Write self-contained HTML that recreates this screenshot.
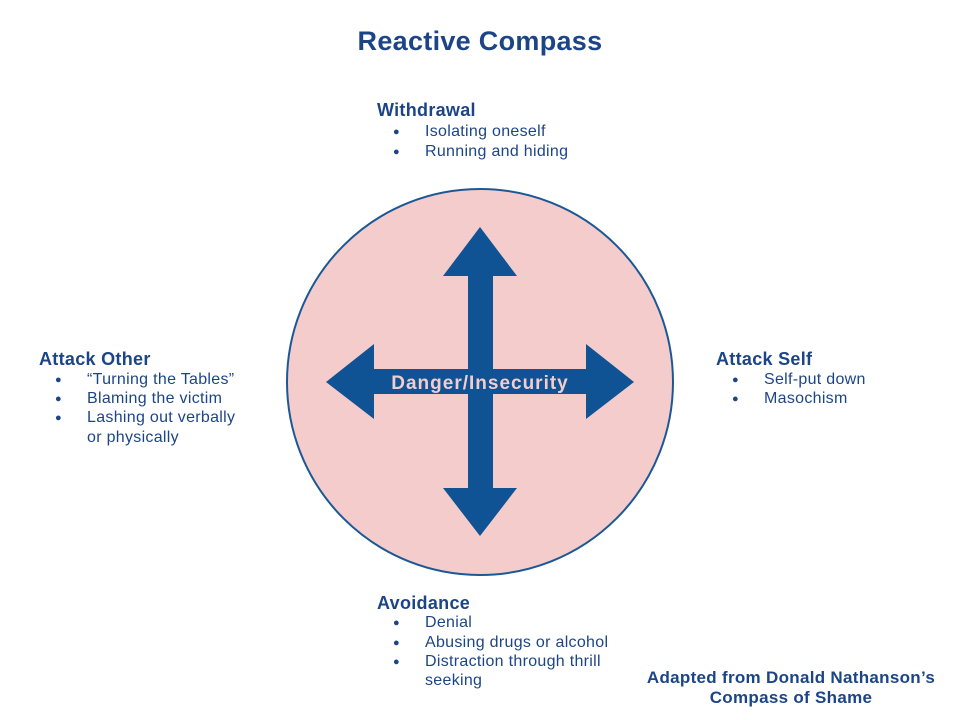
<!DOCTYPE html>
<html><head><meta charset="utf-8"><style>
body{margin:0;width:960px;height:720px;background:#fff;position:relative;overflow:hidden;font-family:"Liberation Sans",sans-serif;color:#1c4587}
.t{position:absolute;white-space:nowrap;line-height:20px;font-size:16px;letter-spacing:0.3px}
.h{font-weight:bold;font-size:18px;letter-spacing:0.3px}
.b{position:absolute;font-size:11px;line-height:20px}
</style></head><body>
<svg width="960" height="720" style="position:absolute;left:0;top:0">
<circle cx="480" cy="382" r="193" fill="#f4cccc" stroke="#1c5796" stroke-width="2"/>
<polygon fill="#0f5394" points="480,227 517,276 493,276 493,369 586,369 586,344 634,382 586,419 586,394 493,394 493,488 517,488 480,536 443,488 468,488 468,394 374,394 374,419 326,382 374,344 374,369 468,369 468,276 443,276"/>
<text x="480" y="389" text-anchor="middle" font-family="Liberation Sans" font-weight="bold" font-size="19" letter-spacing="1" fill="#f4cccc">Danger/Insecurity</text>
</svg>
<div class="t h" style="left:0;width:960px;text-align:center;top:26px;font-size:27px;line-height:30px">Reactive Compass</div>

<div class="t h" style="left:377px;top:100px">Withdrawal</div>
<div class="b" style="left:393px;top:122px">●</div><div class="t" style="left:425px;top:122px">Isolating oneself</div>
<div class="b" style="left:393px;top:142px">●</div><div class="t" style="left:425px;top:142px">Running and hiding</div>

<div class="t h" style="left:39px;top:349px">Attack Other</div>
<div class="b" style="left:55px;top:370px">●</div><div class="t" style="left:87px;top:370px">“Turning the Tables”</div>
<div class="b" style="left:55px;top:389px">●</div><div class="t" style="left:87px;top:389px">Blaming the victim</div>
<div class="b" style="left:55px;top:408px">●</div><div class="t" style="left:87px;top:408px">Lashing out verbally</div>
<div class="t" style="left:87px;top:428px">or physically</div>

<div class="t h" style="left:716px;top:349px">Attack Self</div>
<div class="b" style="left:732px;top:370px">●</div><div class="t" style="left:764px;top:370px">Self-put down</div>
<div class="b" style="left:732px;top:389px">●</div><div class="t" style="left:764px;top:389px">Masochism</div>

<div class="t h" style="left:377px;top:593px">Avoidance</div>
<div class="b" style="left:393px;top:613px">●</div><div class="t" style="left:425px;top:613px">Denial</div>
<div class="b" style="left:393px;top:633px">●</div><div class="t" style="left:425px;top:633px">Abusing drugs or alcohol</div>
<div class="b" style="left:393px;top:652px">●</div><div class="t" style="left:425px;top:652px">Distraction through thrill</div>
<div class="t" style="left:425px;top:671px">seeking</div>

<div class="t h" style="left:620px;width:342px;text-align:center;top:668px;font-size:17px">Adapted from Donald Nathanson’s</div>
<div class="t h" style="left:620px;width:342px;text-align:center;top:688px;font-size:17px">Compass of Shame</div>
</body></html>
